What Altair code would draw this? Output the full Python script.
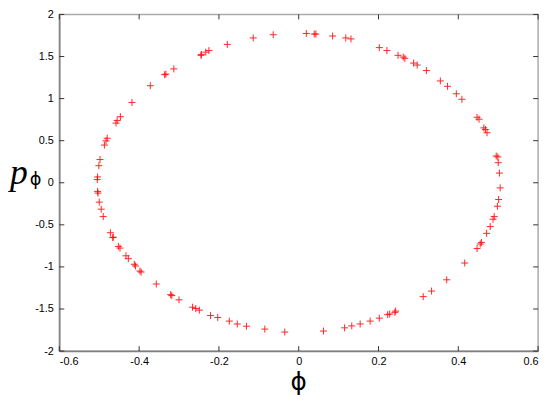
import altair as alt
import pandas as pd

phi = [-0.458, -0.455, -0.447, -0.418, -0.372, -0.336, -0.333, -0.313, -0.245, -0.244,
       -0.233, -0.225, -0.179, -0.114, -0.064, 0.019, 0.039, 0.043, 0.085, 0.118,
       0.131, 0.202, 0.221, 0.249, 0.262, 0.266, 0.288, 0.297, 0.320, 0.355,
       0.373, 0.395, 0.409, 0.447, 0.452, 0.464, 0.468, 0.472, 0.495, 0.499,
       0.500, 0.503, 0.505, 0.501, 0.498, 0.490, 0.487, 0.480, 0.471, 0.458,
       0.455, 0.447, 0.416, 0.371, 0.333, 0.312, 0.243, 0.241, 0.228, 0.223,
       0.202, 0.179, 0.154, 0.133, 0.115, 0.062, -0.035, -0.085, -0.131, -0.154,
       -0.174, -0.203, -0.221, -0.249, -0.258, -0.266, -0.300, -0.318, -0.321, -0.357,
       -0.395, -0.398, -0.409, -0.412, -0.427, -0.433, -0.448, -0.452, -0.465, -0.466,
       -0.472, -0.490, -0.495, -0.500, -0.503, -0.504, -0.505, -0.504, -0.501, -0.498,
       -0.487, -0.483, -0.480]
p_phi = [0.709, 0.739, 0.785, 0.954, 1.153, 1.284, 1.291, 1.353, 1.514, 1.525,
         1.552, 1.571, 1.644, 1.721, 1.759, 1.774, 1.767, 1.767, 1.744, 1.721,
         1.709, 1.606, 1.571, 1.514, 1.494, 1.479, 1.422, 1.399, 1.333, 1.210,
         1.146, 1.057, 0.992, 0.778, 0.755, 0.652, 0.632, 0.594, 0.318, 0.307,
         0.238, 0.115, -0.061, -0.199, -0.279, -0.402, -0.433, -0.521, -0.601, -0.709,
         -0.728, -0.782, -0.954, -1.153, -1.287, -1.353, -1.525, -1.540, -1.560, -1.567,
         -1.609, -1.644, -1.678, -1.701, -1.724, -1.762, -1.774, -1.739, -1.705, -1.678,
         -1.644, -1.601, -1.578, -1.514, -1.494, -1.479, -1.391, -1.341, -1.330, -1.203,
         -1.061, -1.049, -0.989, -0.969, -0.902, -0.868, -0.776, -0.756, -0.647, -0.652,
         -0.594, -0.402, -0.314, -0.230, -0.123, -0.103, 0.038, 0.069, 0.203, 0.276,
         0.448, 0.498, 0.529]

x_ticks = [-0.6, -0.4, -0.2, 0, 0.2, 0.4, 0.6]
y_ticks = [-2, -1.5, -1, -0.5, 0, 0.5, 1, 1.5, 2]

W, H = 485, 341
TICK = 5

df = pd.DataFrame({"phi": phi, "p": p_phi})
xt = pd.DataFrame({"v": x_ticks})
yt = pd.DataFrame({"v": y_ticks})

xs = alt.Scale(domain=[-0.6, 0.6], nice=False, zero=False)
ys = alt.Scale(domain=[-2, 2], nice=False, zero=False)

ax_x = alt.Axis(values=x_ticks, title=None, grid=False, ticks=False, labelPadding=5,
                labelExpr="'' + datum.value", domainColor="#808080", domainWidth=1.5,
                labelFont="Liberation Sans", labelFontSize=11, labelColor="#000000")
ax_y = alt.Axis(values=y_ticks, title=None, grid=False, ticks=False, labelPadding=6,
                labelExpr="'' + datum.value", domainColor="#808080", domainWidth=1.5,
                labelFont="Liberation Sans", labelFontSize=11, labelColor="#000000")

points = alt.Chart(df).mark_point(
    shape="M-1,0L1,0M0,-1L0,1", size=50, filled=False, color="#ff0000",
    strokeWidth=1, opacity=0.85
).encode(
    x=alt.X("phi:Q", scale=xs, axis=ax_x),
    y=alt.Y("p:Q", scale=ys, axis=ax_y),
)

tick_style = dict(color="#333333", strokeWidth=1)
bottom = alt.Chart(xt).mark_rule(**tick_style).encode(
    x=alt.X("v:Q", scale=xs, axis=ax_x), y=alt.value(H), y2=alt.value(H - TICK))
top = alt.Chart(xt).mark_rule(**tick_style).encode(
    x=alt.X("v:Q", scale=xs, axis=ax_x), y=alt.value(0), y2=alt.value(TICK))
left = alt.Chart(yt).mark_rule(**tick_style).encode(
    y=alt.Y("v:Q", scale=ys, axis=ax_y), x=alt.value(0), x2=alt.value(TICK))
right = alt.Chart(yt).mark_rule(**tick_style).encode(
    y=alt.Y("v:Q", scale=ys, axis=ax_y), x=alt.value(W), x2=alt.value(W - TICK))

xlabel = alt.Chart(pd.DataFrame({"t": ["\u03d5"]})).mark_text(
    font="DejaVu Sans", fontSize=25, baseline="alphabetic", align="center", color="#000000"
).encode(text="t:N", x=alt.value(W / 2), y=alt.value(H + 39))

ylabel_p = alt.Chart(pd.DataFrame({"t": ["p"]})).mark_text(
    font="Liberation Serif", fontStyle="italic", fontSize=36, baseline="alphabetic",
    align="center", color="#000000"
).encode(text="t:N", x=alt.value(-41), y=alt.value(172))

ylabel_sub = alt.Chart(pd.DataFrame({"t": ["\u03d5"]})).mark_text(
    font="DejaVu Sans", fontSize=18, baseline="middle", align="center", color="#000000"
).encode(text="t:N", x=alt.value(-24), y=alt.value(168))

chart = alt.layer(points, bottom, top, left, right, xlabel, ylabel_p, ylabel_sub).properties(
    width=W, height=H,
    autosize=alt.AutoSizeParams(type="none"),
    padding={"left": 52, "top": 4, "right": 8, "bottom": 44},
).configure_view(stroke="#aaaaaa", strokeWidth=1.5)

chart.save("out.html", embed_options={"renderer": "svg", "actions": False})
